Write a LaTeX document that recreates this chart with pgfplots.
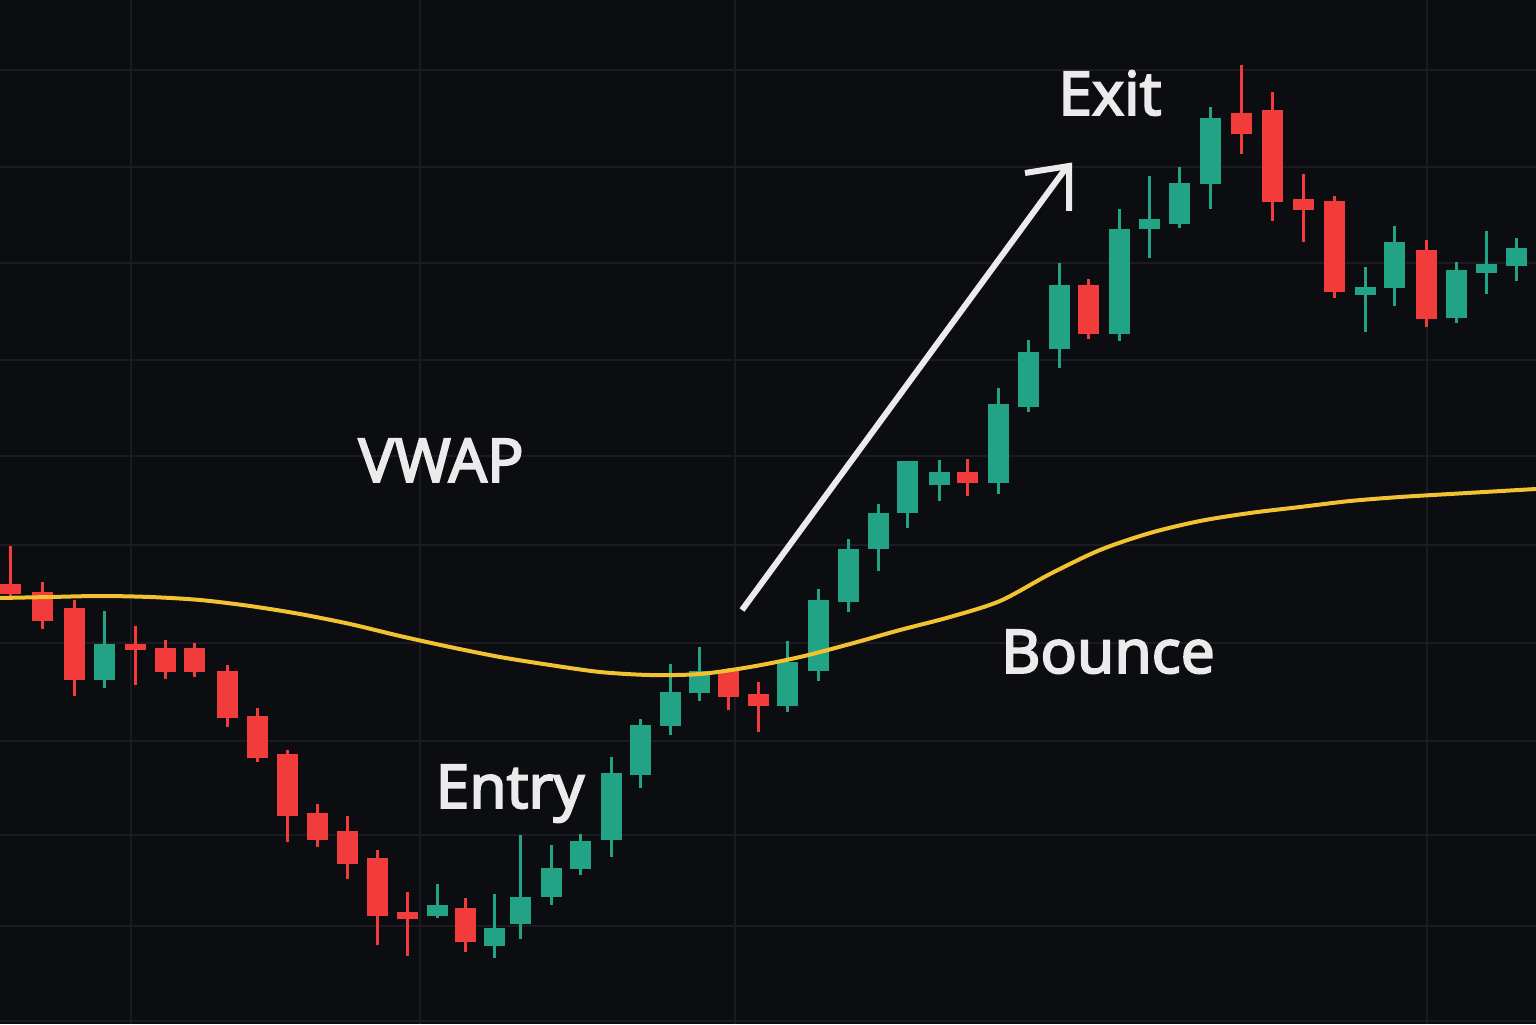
\documentclass[border=0pt]{standalone}
\usepackage{pgfplots}
\usepackage{pgfplotstable}
\pgfplotsset{compat=1.18}
\usepackage{fontspec}
\setmainfont{Noto Sans}
\newfontfamily\lab{Noto Sans}[FakeBold=3]
\definecolor{bg}{HTML}{0B0D11}
\definecolor{gridc}{HTML}{1A1C21}
\definecolor{cgreen}{HTML}{22A386}
\definecolor{cred}{HTML}{F23B3B}
\definecolor{vwap}{HTML}{F2C230}
\definecolor{txt}{HTML}{EBEBEB}

\pgfplotstableread{
x o h l c
104 344 413 336 380
437 108 140 106 119
494 78 130 66 96
520 100 189 85 127
551 127 179 119 156
580 155 190 149 183
611 184 267 167 251
640 249 305 236 299
670 298 360 289 332
699 331 377 323 353
787 318 383 312 362
818 353 435 343 424
848 422 485 412 475
878 475 520 453 511
907 511 563 496 563
939 539 564 523 552
998 541 636 530 620
1028 617 684 612 672
1059 675 761 656 739
1119 690 815 683 795
1149 795 848 766 805
1179 800 857 796 841
1210 840 917 815 906
1365 729 757 692 737
1394 736 798 718 782
1456 706 762 701 754
1486 751 793 730 760
1516 758 786 743 776
}\greendata

\pgfplotstableread{
x o h l c
10 440 478 426 430
42 432 442 395 403
74 416 424 328 344
135 380 398 339 374
165 376 384 345 352
194 376 381 347 352
227 353 359 297 306
257 308 316 262 266
287 270 274 182 208
317 211 220 177 184
347 193 208 145 160
377 166 174 79 108
407 112 132 68 105
465 116 126 72 82
728 354 356 314 327
758 330 342 292 318
967 552 565 528 541
1088 739 745 685 690
1241 911 959 870 890
1272 914 932 803 822
1303 825 850 782 814
1334 823 828 726 732
1426 774 784 697 705
}\reddata

\begin{document}
\begin{tikzpicture}
\begin{axis}[
  width=15.36cm, height=10.24cm, scale only axis,
  xmin=0, xmax=1536, ymin=0, ymax=1024,
  axis background/.style={fill=bg},
  axis line style={draw=none},
  xtick={131,420,735,1427},
  ytick={3,98,189,283,381,479,568,664,761,857,954},
  xticklabels={}, yticklabels={},
  major tick length=0pt,
  grid=major,
  major grid style={draw=gridc, line width=0.25mm},
  candle/.style={draw=none, mark=none, forget plot,
    error bars/.cd, y dir=plus, y explicit, error mark=none},
]
% wicks
\addplot[candle, error bar style={draw=cgreen, line width=0.3mm}]
  table[x=x, y=l, y error expr={\thisrow{h}-\thisrow{l}}] {\greendata};
\addplot[candle, error bar style={draw=cred, line width=0.3mm}]
  table[x=x, y=l, y error expr={\thisrow{h}-\thisrow{l}}] {\reddata};
% bodies
\addplot[candle, error bar style={draw=cgreen, line width=2.1mm}]
  table[x=x, y expr={min(\thisrow{o},\thisrow{c})}, y error expr={abs(\thisrow{c}-\thisrow{o})}] {\greendata};
\addplot[candle, error bar style={draw=cred, line width=2.1mm}]
  table[x=x, y expr={min(\thisrow{o},\thisrow{c})}, y error expr={abs(\thisrow{c}-\thisrow{o})}] {\reddata};
% VWAP
\addplot[vwap, line width=0.4mm, smooth, mark=none] coordinates {
(0,426) (50,427) (100,428) (150,427) (200,424) (250,418) (300,410) (350,400)
(400,388) (450,377) (500,367) (550,359) (600,352) (650,349) (700,350) (750,357)
(800,367) (850,380) (900,394) (950,407) (1000,423) (1050,450) (1100,474)
(1150,491) (1200,503) (1250,511) (1300,517) (1350,523) (1400,527) (1450,530) (1536,535)};
% arrow
\draw[txt, line width=0.6mm, line cap=butt] (axis cs:742,414) -- (axis cs:1066,856);
\draw[txt, line width=0.6mm, line join=miter] (axis cs:1025,851) -- (axis cs:1069,858) -- (axis cs:1069,813);
% labels
\node[txt, anchor=base, font=\lab\fontsize{17.2}{20}\selectfont] at (axis cs:441,542) {VWAP};
\node[txt, anchor=base, font=\lab\fontsize{17.2}{20}\selectfont] at (axis cs:510,216) {Entry};
\node[txt, anchor=base, font=\lab\fontsize{17.2}{20}\selectfont] at (axis cs:1110,909) {Exit};
\node[txt, anchor=base, font=\lab\fontsize{17.2}{20}\selectfont] at (axis cs:1108,351) {Bounce};
\end{axis}
\pgfresetboundingbox
\path[use as bounding box] (current axis.south west) rectangle (current axis.north east);
\end{tikzpicture}
\end{document}
